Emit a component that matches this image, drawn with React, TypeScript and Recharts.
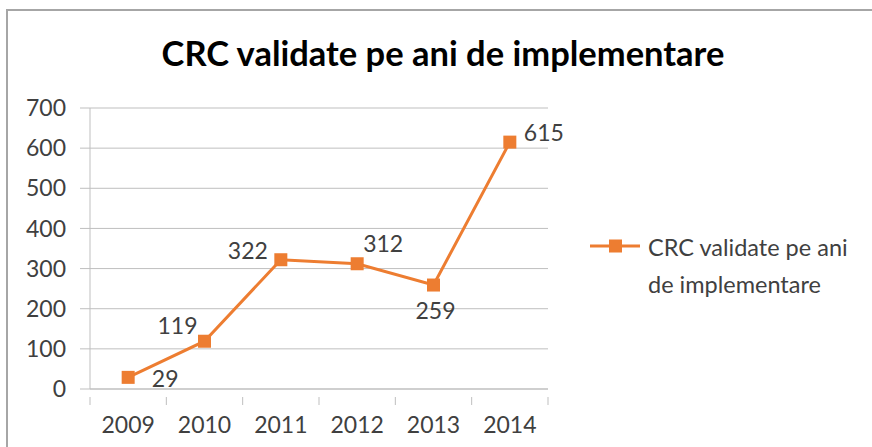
import { CartesianGrid, Line, LineChart, XAxis, YAxis } from "recharts";

const years = ["2009", "2010", "2011", "2012", "2013", "2014"];
const crcValues = [29, 119, 322, 312, 259, 615];
const yTicks = [0, 100, 200, 300, 400, 500, 600, 700];
const seriesName = "CRC validate pe ani de implementare";

// where Excel put each data label, relative to its marker
const labelPlacement = [
    [37, 1],
    [-27, -16],
    [-33, -10],
    [26, -21],
    [2, 25],
    [34, -10],
];

const data = years.map((year, i) => ({ year, value: crcValues[i] }));

const W = 872;
const H = 447;
const AXIS_W = 90;
const RIGHT = 324;
const BAND = (W - AXIS_W - RIGHT) / years.length;
const ORANGE = "#ED7D31";
const TEXT = "#404040";
const GRID = "#bfbfbf";
const FONT = "Lato, 'Open Sans', sans-serif";

const SquareDot = (props: any) => {
    const { cx, cy } = props;
    return <rect x={cx - 6.5} y={cy - 6.5} width={13} height={13} fill={ORANGE} />;
};

const ValueLabel = (props: any) => {
    const { x, y, value, index } = props;
    const [dx, dy] = labelPlacement[index];
    return (
        <text
            x={x + dx}
            y={y + dy}
            textAnchor="middle"
            dominantBaseline="central"
            fontSize={23}
            fill={TEXT}
            fontFamily={FONT}
        >
            {value}
        </text>
    );
};

const YearTick = (props: any) => {
    const { x, y, payload, index } = props;
    const left = x - BAND / 2;
    return (
        <g>
            <line x1={left} y1={y} x2={left} y2={y + 8} stroke={GRID} />
            {index === years.length - 1 && (
                <line x1={x + BAND / 2} y1={y} x2={x + BAND / 2} y2={y + 8} stroke={GRID} />
            )}
            <text
                x={x}
                y={y + 27}
                textAnchor="middle"
                dominantBaseline="central"
                fontSize={23}
                fill={TEXT}
                fontFamily={FONT}
            >
                {payload.value}
            </text>
        </g>
    );
};

const LegendBox = () => (
    <svg width={270} height={80} style={{ position: "absolute", left: 590, top: 230, overflow: "visible" }}>
        <line x1={0} y1={16} x2={50} y2={16} stroke={ORANGE} strokeWidth={3} />
        <rect x={19} y={9.5} width={13} height={13} fill={ORANGE} />
        <text x={58} y={17} dominantBaseline="central" fontSize={23.5} fill={TEXT} fontFamily={FONT}>
            CRC validate pe ani
        </text>
        <text x={58} y={54} dominantBaseline="central" fontSize={23.5} fill={TEXT} fontFamily={FONT}>
            de implementare
        </text>
    </svg>
);

export default function App() {
    return (
        <div
            style={{
                position: "absolute",
                left: 0,
                top: 0,
                width: W,
                height: H,
                background: "#fff",
                overflow: "hidden",
                fontFamily: FONT,
            }}
        >
            <div
                style={{
                    position: "absolute",
                    left: 6,
                    top: 9,
                    right: -10,
                    bottom: -10,
                    borderTop: "2px solid #a6a6a6",
                    borderLeft: "2px solid #a6a6a6",
                }}
            />
            <div
                style={{
                    position: "absolute",
                    left: 0,
                    width: 886,
                    top: 31,
                    textAlign: "center",
                    fontSize: 34.5,
                    fontWeight: 700,
                    color: "#000",
                    lineHeight: "44px",
                }}
            >
                {seriesName}
            </div>
            <LineChart
                width={W}
                height={H}
                data={data}
                margin={{ top: 108, right: RIGHT, bottom: 18, left: 0 }}
                style={{ position: "absolute", left: 0, top: 0 }}
            >
                <CartesianGrid horizontal vertical={false} stroke={GRID} />
                <XAxis
                    dataKey="year"
                    height={40}
                    axisLine={{ stroke: GRID }}
                    tickLine={false}
                    tick={<YearTick />}
                    interval={0}
                    padding={{ left: BAND / 2, right: BAND / 2 }}
                />
                <YAxis
                    width={AXIS_W}
                    domain={[0, 700]}
                    ticks={yTicks}
                    interval={0}
                    axisLine={{ stroke: GRID }}
                    tickLine={{ stroke: GRID }}
                    tickSize={10}
                    tickMargin={14}
                    tick={{ fontSize: 23, fill: TEXT, fontFamily: FONT }}
                />
                <Line
                    type="linear"
                    dataKey="value"
                    name={seriesName}
                    stroke={ORANGE}
                    strokeWidth={3}
                    dot={<SquareDot />}
                    activeDot={false}
                    label={<ValueLabel />}
                    isAnimationActive={false}
                />
            </LineChart>
            <LegendBox />
        </div>
    );
}
